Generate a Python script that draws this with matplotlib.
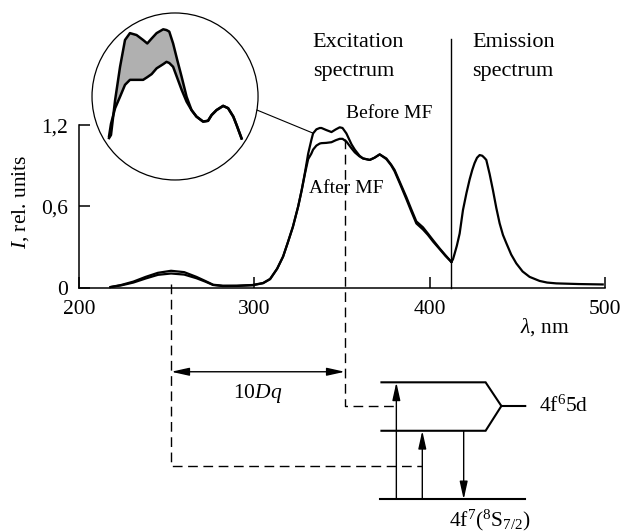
import matplotlib
matplotlib.use('Agg')
import matplotlib.pyplot as plt
from matplotlib.patches import Ellipse, ConnectionPatch

# ---------------- data ----------------
# excitation spectrum (nm, rel. units)
lam_exc = [218, 224, 231, 238, 245, 252.5, 260, 267, 272, 276.5, 282, 290, 299, 305, 309,
           313, 316.4, 319, 322, 325, 327, 329, 330.7, 332.5, 333.5, 335.4, 337.3, 338.3,
           341, 344, 346.5, 348.7, 350.3, 352.5, 355.4, 357.3, 360, 362, 365.8, 368.5,
           371.5, 375.3, 378, 380, 383, 386.7, 389.5, 392.4, 396.2, 399, 402, 405.7, 409, 412.4]
exc_before = [0.005, 0.02, 0.045, 0.08, 0.11, 0.125, 0.115, 0.08, 0.05, 0.022, 0.015, 0.015,
              0.02, 0.035, 0.065, 0.14, 0.23, 0.33, 0.45, 0.6, 0.72, 0.86, 0.99, 1.09, 1.14,
              1.17, 1.18, 1.18, 1.165, 1.15, 1.17, 1.185, 1.18, 1.14, 1.06, 1.02, 0.975,
              0.955, 0.944, 0.96, 0.985, 0.955, 0.91, 0.87, 0.78, 0.67, 0.58, 0.49, 0.446, 0.40,
              0.35, 0.29, 0.24, 0.19]
exc_after = [0.005, 0.017, 0.038, 0.068, 0.095, 0.105, 0.097, 0.07, 0.045, 0.02, 0.012, 0.013,
             0.018, 0.033, 0.063, 0.14, 0.23, 0.33, 0.45, 0.6, 0.72, 0.85, 0.95, 0.99, 1.02,
             1.05, 1.065, 1.068, 1.07, 1.075, 1.09, 1.10, 1.10, 1.08, 1.03, 1.0, 0.97,
             0.955, 0.944, 0.96, 0.985, 0.95, 0.905, 0.86, 0.77, 0.655, 0.565, 0.475, 0.43, 0.39,
             0.34, 0.285, 0.235, 0.19]
# emission spectrum
lam_em = [412.4, 413.3, 414.2, 415.5, 417.1, 419, 421, 422.8, 424.3, 425.6, 427, 428.5, 430,
          431.2, 432.3, 434.2, 436.1, 438, 439.9, 441.8, 443.7, 446.5, 449.4, 453, 457, 462.7,
          467, 472.2, 485, 498.7]
em = [0.19, 0.21, 0.25, 0.31, 0.40, 0.574, 0.70, 0.80, 0.87, 0.92, 0.96, 0.98, 0.975, 0.96,
      0.944, 0.84, 0.72, 0.59, 0.476, 0.39, 0.33, 0.245, 0.18, 0.12, 0.08, 0.05, 0.038, 0.032,
      0.027, 0.024]

# magnified inset (peak region)
inset_lam = [329.4, 330.1, 331.6, 333.4, 335.2, 337.0, 339.4, 341.8, 343.3, 344.9, 346.7,
             349.1, 350.3, 351.3, 352.7, 354.2, 355.8, 357.6, 359.4, 361.2, 363.6, 365.4,
             366.7, 368.5, 370.9, 372.7, 374.6, 375.8, 377.6]
inset_before = [0.901, 0.909, 1.000, 1.087, 1.157, 1.175, 1.170, 1.157, 1.148, 1.161, 1.175,
                1.185, 1.183, 1.179, 1.148, 1.105, 1.061, 1.009, 0.974, 0.957, 0.944, 0.946,
                0.961, 0.974, 0.985, 0.979, 0.957, 0.935, 0.900]
inset_after = [0.906, 0.938, 0.979, 1.009, 1.040, 1.053, 1.053, 1.053, 1.060, 1.068, 1.083,
               1.094, 1.100, 1.097, 1.087, 1.058, 1.027, 0.996, 0.974, 0.957, 0.944, 0.946,
               0.961, 0.974, 0.985, 0.979, 0.957, 0.935, 0.900]

x_ticks = [200, 300, 400, 500]
x_ticklabels = ['200', '300', '400', '500']
y_ticks = [0, 0.6, 1.2]
y_ticklabels = ['0', '0,6', '1,2']

lam_boundary = 412.4          # excitation / emission separator
lam_uv_peak = 252.6           # 10Dq left end
lam_vis_peak = 351.6          # 10Dq right end

# energy-level scheme (drawn below the axis, in the axis' data units)
lvl_x = [372.5, 431.9, 440.9, 454.5]   # start, bend, apex, end
lvl_top, lvl_mid, lvl_low, lvl_ground = -0.699, -0.874, -1.057, -1.564
arrow_x = [381.0, 395.8, 419.4]
y_dq = -0.621
y_dash_low = -1.316

# ---------------- style ----------------
plt.rcParams['font.family'] = ['Liberation Serif', 'DejaVu Serif']
plt.rcParams['mathtext.fontset'] = 'custom'
plt.rcParams['mathtext.rm'] = 'Liberation Serif'
plt.rcParams['mathtext.it'] = 'Liberation Serif:italic'
FS = 15.5

fig = plt.figure(figsize=(6.23, 5.32), dpi=100)
ax = fig.add_axes([0.1268, 0.4592, 0.8443, 0.3053])
ax.set_xlim(200, 500)
ax.set_ylim(0, 1.2)
for s in ('top', 'right'):
    ax.spines[s].set_visible(False)
for s in ('left', 'bottom'):
    ax.spines[s].set_linewidth(1.1)

LW = 1.6
ax.plot(lam_exc, exc_before, color='k', lw=LW, clip_on=False)
ax.plot(lam_exc, exc_after, color='k', lw=LW, clip_on=False)
ax.plot(lam_em, em, color='k', lw=LW, clip_on=False)

ax.set_xticks(x_ticks)
ax.set_xticklabels(x_ticklabels)
ax.set_yticks(y_ticks)
ax.set_yticklabels(y_ticklabels)
ax.tick_params(direction='in', length=8, width=1.1, labelsize=FS)
ax.tick_params(axis='x', pad=9)
ax.tick_params(axis='y', pad=8)

ax.set_ylabel('$I$, rel. units', fontsize=FS)
ax.yaxis.set_label_coords(-0.092, 0.53)
ax.text(465.5, -0.288, r'$\lambda$, nm', fontsize=FS, ha='center', va='center')

# separator line
ax.plot([lam_boundary, lam_boundary], [0, 1.84], color='k', lw=1.0, clip_on=False)
ax.text(333.3, 1.815, 'Excitation', fontsize=16, ha='left', va='center')
ax.text(333.3, 1.594, 'spectrum', fontsize=16, ha='left', va='center')
ax.text(424.5, 1.815, 'Emission', fontsize=16, ha='left', va='center')
ax.text(424.5, 1.594, 'spectrum', fontsize=16, ha='left', va='center')
ax.text(377.2, 1.284, 'Before MF', fontsize=14, ha='center', va='center')
ax.text(352.5, 0.73, 'After MF', fontsize=14, ha='center', va='center')

# dashed construction lines
DASH = (0, (7, 4))
ax.plot([lam_uv_peak, lam_uv_peak, arrow_x[1]], [0.03, y_dash_low, y_dash_low],
        color='k', lw=1.0, ls=DASH, clip_on=False)
ax.plot([lam_vis_peak, lam_vis_peak, arrow_x[0]], [1.10, lvl_mid, lvl_mid],
        color='k', lw=1.0, ls=DASH, clip_on=False)

# 10Dq arrow
ax.annotate('', xy=(lam_vis_peak, y_dq), xytext=(lam_uv_peak, y_dq),
            arrowprops=dict(arrowstyle='<|-|>,head_length=0.9,head_width=0.2', lw=1.0,
                            color='k', mutation_scale=12, shrinkA=0, shrinkB=0),
            annotation_clip=False)
ax.text(302, -0.778, '10$Dq$', fontsize=FS, ha='center', va='center')

# energy levels
ELW = 1.5
ax.plot([lvl_x[0], lvl_x[1], lvl_x[2], lvl_x[3]], [lvl_top, lvl_top, lvl_mid, lvl_mid],
        color='k', lw=ELW, clip_on=False, solid_joinstyle='miter')
ax.plot([lvl_x[0], lvl_x[1], lvl_x[2]], [lvl_low, lvl_low, lvl_mid],
        color='k', lw=ELW, clip_on=False, solid_joinstyle='miter')
ax.plot([lvl_x[0] - 1, lvl_x[3]], [lvl_ground, lvl_ground], color='k', lw=ELW, clip_on=False)

AP = dict(arrowstyle='-|>,head_length=0.9,head_width=0.2', lw=1.0, color='k',
          mutation_scale=12, shrinkA=0, shrinkB=0)
ax.annotate('', xy=(arrow_x[0], lvl_top), xytext=(arrow_x[0], lvl_ground),
            arrowprops=AP, annotation_clip=False)
ax.annotate('', xy=(arrow_x[1], lvl_low), xytext=(arrow_x[1], lvl_ground),
            arrowprops=AP, annotation_clip=False)
ax.annotate('', xy=(arrow_x[2], lvl_ground), xytext=(arrow_x[2], lvl_low),
            arrowprops=AP, annotation_clip=False)

ax.text(462.1, lvl_mid, r'4f$^{6}$5d', fontsize=FS, ha='left', va='center')
ax.text(434.2, -1.722, r'4f$^{7}$($^{8}$S$_{7/2}$)', fontsize=FS, ha='center', va='center')

# ---------------- inset ----------------
axi = fig.add_axes([0.1477, 0.6617, 0.2665, 0.3139])
axi.set_xlim(323.2, 383.6)
axi.set_ylim(0.7915, 1.2276)
axi.axis('off')
axi.fill_between(inset_lam, inset_after, inset_before, color='#b0b0b0', lw=0)
axi.plot(inset_lam, inset_before, color='k', lw=1.8)
axi.plot(inset_lam, inset_after, color='k', lw=1.8)
circ = Ellipse((0.5, 0.5), 1.0, 1.0, transform=axi.transAxes, fill=False,
               edgecolor='k', lw=0.9, clip_on=False)
axi.add_patch(circ)

con = ConnectionPatch(xyA=(0.993, 0.419), coordsA=axi.transAxes,
                      xyB=(333.3, 1.143), coordsB=ax.transData, color='k', lw=0.8)
fig.add_artist(con)

fig.savefig('out.png', dpi=100)
